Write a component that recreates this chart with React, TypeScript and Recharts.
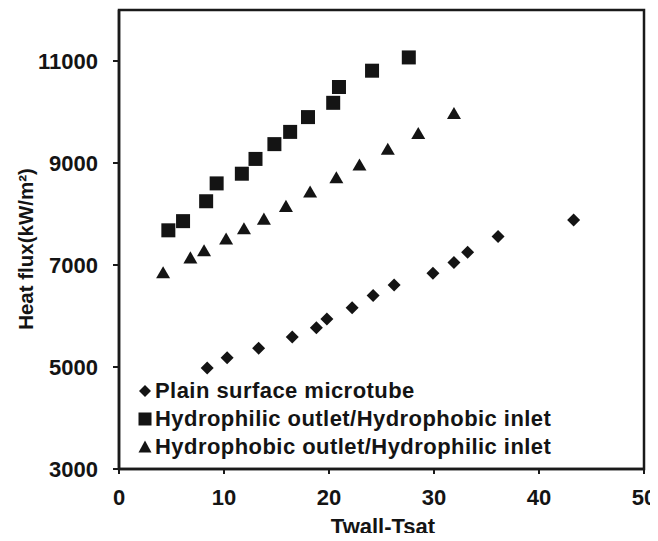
import React from 'react';
import { ScatterChart, Scatter, XAxis, YAxis, ReferenceArea } from 'recharts';

const plainX = [8.4, 10.3, 13.3, 16.5, 18.8, 19.8, 22.2, 24.2, 26.2, 29.9, 31.9, 33.2, 36.1, 43.3];
const plainY = [4980, 5180, 5370, 5590, 5770, 5940, 6160, 6400, 6610, 6840, 7050, 7250, 7560, 7880];

const philicX = [4.7, 6.1, 8.3, 9.3, 11.7, 13.0, 14.8, 16.3, 18.0, 20.4, 20.95, 24.1, 27.6];
const philicY = [7680, 7860, 8250, 8600, 8790, 9080, 9370, 9610, 9900, 10180, 10490, 10810, 11070];

const phobicX = [4.2, 6.8, 8.1, 10.2, 11.9, 13.8, 15.9, 18.2, 20.7, 22.9, 25.6, 28.5, 31.9];
const phobicY = [6850, 7140, 7280, 7510, 7710, 7900, 8150, 8430, 8710, 8960, 9270, 9580, 9970];

const xTicks = [0, 10, 20, 30, 40, 50];
const yTicks = [3000, 5000, 7000, 9000, 11000];

const seriesNames = [
  'Plain surface microtube',
  'Hydrophilic outlet/Hydrophobic inlet',
  'Hydrophobic outlet/Hydrophilic inlet',
];

const toPoints = (xs: number[], ys: number[]) => xs.map((x, i) => ({ x, y: ys[i] }));

const INK = '#141414';
const FONT = '"Liberation Sans", Arial, sans-serif';

const Diamond = (p: any) => {
  const { cx, cy } = p;
  const r = 6.5;
  return <path d={`M${cx},${cy - r}L${cx + r},${cy}L${cx},${cy + r}L${cx - r},${cy}Z`} fill={INK} />;
};
const Square = (p: any) => {
  const { cx, cy } = p;
  const h = 7;
  return <rect x={cx - h} y={cy - h} width={2 * h} height={2 * h} fill={INK} />;
};
const Triangle = (p: any) => {
  const { cx, cy } = p;
  const w = 7, hT = 6.5;
  return <path d={`M${cx},${cy - hT}L${cx + w},${cy + hT * 0.85}L${cx - w},${cy + hT * 0.85}Z`} fill={INK} />;
};

const legendShapes = [
  (cx: number, cy: number) => <path d={`M${cx},${cy - 6}L${cx + 6},${cy}L${cx},${cy + 6}L${cx - 6},${cy}Z`} fill={INK} />,
  (cx: number, cy: number) => <rect x={cx - 6.5} y={cy - 6.5} width={13} height={13} fill={INK} />,
  (cx: number, cy: number) => <path d={`M${cx},${cy - 6.5}L${cx + 6.5},${cy + 5.5}L${cx - 6.5},${cy + 5.5}Z`} fill={INK} />,
];

const LegendBox = () => (
  <div
    style={{
      position: 'absolute',
      left: 129,
      top: 369,
      fontFamily: FONT,
      fontWeight: 700,
      fontSize: 22,
      color: INK,
      lineHeight: 1,
    }}
  >
    {seriesNames.map((name, i) => (
      <div key={name} style={{ display: 'flex', alignItems: 'center', height: 28, whiteSpace: 'nowrap' }}>
        <svg width={16} height={16} style={{ marginRight: 2 }}>
          {legendShapes[i](8, 8)}
        </svg>
        <span style={{ letterSpacing: 0.45 }}>{name}</span>
      </div>
    ))}
  </div>
);

const YLabel = () => {
  const cx = 17;
  const cy = 241;
  return (
    <text
      x={cx}
      y={cy}
      transform={`rotate(-90, ${cx}, ${cy})`}
      textAnchor="middle"
      dominantBaseline="central"
      fontFamily={FONT}
      fontWeight={700}
      fontSize={20.5}
      fill={INK}
    >
      Heat flux(kW/m²)
    </text>
  );
};

const XLabel = () => (
  <text x={375} y={526} textAnchor="middle" fontFamily={FONT} fontWeight={700} fontSize={22} fill={INK}>
    Twall-Tsat
  </text>
);

const tickStyle = { fontFamily: FONT, fontWeight: 700, fontSize: 22, fill: INK };
const axisLineStyle = { stroke: '#1a1a1a', strokeWidth: 2.5 };

export default function App() {
  return (
    <div style={{ position: 'relative', width: 650, height: 533, marginBottom: -8 }}>
      <ScatterChart width={650} height={533} margin={{ top: 2, right: 14, bottom: 0, left: 0 }}>
        <XAxis
          type="number"
          dataKey="x"
          domain={[0, 50]}
          ticks={xTicks}
          height={72}
          tick={tickStyle}
          tickSize={5}
          tickMargin={15}
          axisLine={axisLineStyle}
          tickLine={{ stroke: '#1a1a1a', strokeWidth: 2 }}
          label={<XLabel />}
          allowDataOverflow
        />
        <YAxis
          type="number"
          dataKey="y"
          domain={[3000, 12000]}
          ticks={yTicks}
          width={111}
          tick={tickStyle}
          tickSize={6}
          tickMargin={15}
          axisLine={axisLineStyle}
          tickLine={{ stroke: '#1a1a1a', strokeWidth: 2 }}
          label={<YLabel />}
          allowDataOverflow
        />
        <ReferenceArea
          x1={0}
          x2={50}
          y1={3000}
          y2={12000}
          stroke="#1a1a1a"
          strokeWidth={2.5}
          fill="none"
          fillOpacity={0}
          ifOverflow="visible"
        />
        <Scatter name={seriesNames[0]} data={toPoints(plainX, plainY)} shape={<Diamond />} isAnimationActive={false} />
        <Scatter name={seriesNames[1]} data={toPoints(philicX, philicY)} shape={<Square />} isAnimationActive={false} />
        <Scatter name={seriesNames[2]} data={toPoints(phobicX, phobicY)} shape={<Triangle />} isAnimationActive={false} />
      </ScatterChart>
      <LegendBox />
    </div>
  );
}
